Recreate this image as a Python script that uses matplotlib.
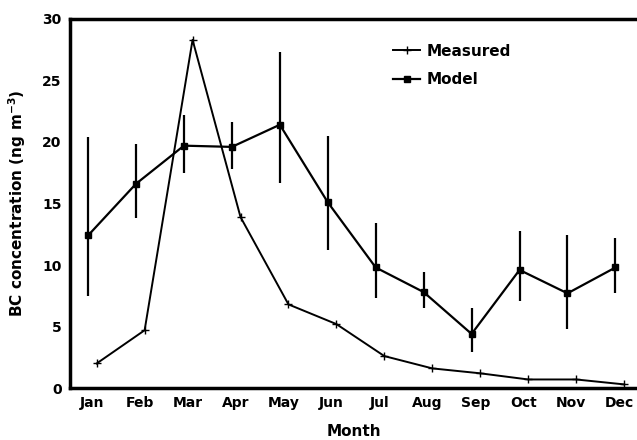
import matplotlib.pyplot as plt
from matplotlib.lines import Line2D
import numpy as np

months = ["Jan", "Feb", "Mar", "Apr", "May", "Jun", "Jul", "Aug", "Sep", "Oct", "Nov", "Dec"]
measured = [2.0, 4.7, 28.3, 13.9, 6.8, 5.2, 2.6, 1.6, 1.2, 0.7, 0.7, 0.3]
model = [12.4, 16.6, 19.7, 19.6, 21.4, 15.1, 9.8, 7.8, 4.4, 9.6, 7.7, 9.8]
model_hi = [20.4, 19.8, 22.2, 21.6, 27.3, 20.5, 13.4, 9.4, 6.5, 12.8, 12.4, 12.2]
model_lo = [7.5, 13.8, 17.5, 17.8, 16.7, 11.2, 7.3, 6.5, 2.9, 7.1, 4.8, 7.7]

plt.rcParams['font.family'] = ['DejaVu Sans']
plt.rcParams['font.weight'] = 'bold'

fig = plt.figure(figsize=(6.37, 4.4), dpi=100)
ax = fig.add_axes([0.11, 0.118, 0.89, 0.839])

x = np.arange(len(months))
model = np.array(model)
yerr = [model - np.array(model_lo), np.array(model_hi) - model]

ax.plot(x + 0.18, measured, color='black', lw=1.4, marker='+', ms=6, mew=1.0)
ax.errorbar(x, model, yerr=yerr, color='black', lw=1.6, elinewidth=1.6, capsize=0,
            marker='s', ms=4.8)

ax.set_xlim(-0.375, 11.45)
ax.set_ylim(0, 30)
ax.set_yticks(range(0, 31, 5))
ax.set_xticks(x + 0.08)
ax.set_xticklabels(months)
ax.tick_params(length=0, labelsize=10, pad=6)
for lab in ax.get_xticklabels() + ax.get_yticklabels():
    lab.set_fontweight('bold')

for s in ['left', 'bottom', 'top']:
    ax.spines[s].set_linewidth(2.5)
ax.spines['right'].set_visible(False)

ax.set_xlabel("Month", fontsize=11, fontweight='bold', labelpad=10)
ax.set_ylabel("BC concentration (ng m$^{-3}$)", fontsize=11, fontweight='bold', labelpad=10)

handles = [Line2D([], [], color='black', lw=1.4, marker='+', ms=6, mew=1.0),
           Line2D([], [], color='black', lw=1.6, marker='s', ms=4)]
leg = ax.legend(handles, ["Measured", "Model"], loc='upper left', bbox_to_anchor=(0.545, 0.97),
                frameon=False, fontsize=11, handlelength=1.8, labelspacing=0.9, handletextpad=0.4)
for t in leg.get_texts():
    t.set_fontweight('bold')

fig.savefig("out.png", dpi=100)
